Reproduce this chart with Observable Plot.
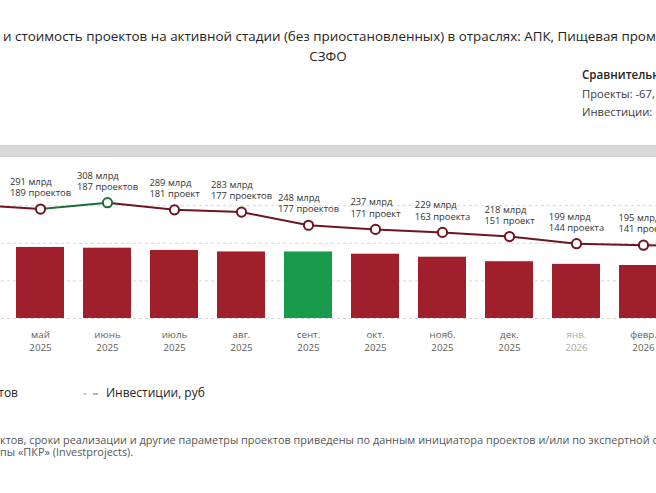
<!DOCTYPE html>
<html><head><meta charset="utf-8">
<script src="https://cdn.jsdelivr.net/npm/d3@7"></script>
<script src="https://cdn.jsdelivr.net/npm/@observablehq/plot@0.6"></script>
<style>
html,body{margin:0;padding:0;width:656px;height:493px;overflow:hidden;background:#fff;font-family:"Open Sans",sans-serif;color:#252423;}
.abs{position:absolute;white-space:nowrap;line-height:16px;}
#t1{left:3px;top:28px;font-size:13.4px;}
#t2{left:0;width:656px;top:48px;font-size:13.4px;text-align:center;}
#c1{left:582px;top:67px;font-size:11.6px;font-weight:600;}
#c2{left:582px;top:86px;font-size:11.2px;color:#3b3a39;}
#c3{left:582px;top:104px;font-size:11.2px;color:#3b3a39;}
#band{position:absolute;left:0;top:145px;width:656px;height:12px;background:#d9d9d9;border-top:1px solid #cfcfcf;border-bottom:1px solid #cfcfcf;box-sizing:border-box;}
#chart{position:absolute;left:-80px;top:160px;width:850px;height:200px;}
#chart svg{max-width:none !important;}
#lg1{right:638px;top:385px;font-size:12px;}
#lg2{left:106px;top:385px;font-size:12px;}
.dash{position:absolute;top:393px;height:2px;background:#9fb4cd;}
#f1{left:0;top:434px;font-size:10.9px;color:#555;line-height:12px;}
#f2{left:0;top:446px;font-size:10.9px;color:#555;line-height:12px;}
</style></head>
<body>
<div class="abs" id="t1">и стоимость проектов на активной стадии (без приостановленных) в отраслях: АПК, Пищевая промышленность</div>
<div class="abs" id="t2">СЗФО</div>
<div class="abs" id="c1">Сравнительн</div>
<div class="abs" id="c2">Проекты: -67,</div>
<div class="abs" id="c3">Инвестиции:</div>
<div id="band"></div>
<div id="chart"></div>
<div class="abs" id="lg1">Количество проектов</div>
<div class="dash" style="left:83px;width:4px;background:#c6d3e2"></div>
<div class="dash" style="left:93px;width:5px;"></div>
<div class="abs" id="lg2">Инвестиции, руб</div>
<div class="abs" id="f1">ктов, сроки реализации и другие параметры проектов приведены по данным инициатора проектов и/или по экспертной оценке</div>
<div class="abs" id="f2">пы «ПКР» (Investprojects).</div>
<script>
const months = ["апр.","май","июнь","июль","авг.","сент.","окт.","нояб.","дек.","янв.","февр.","март"];
const years = ["2025","2025","2025","2025","2025","2025","2025","2025","2025","2026","2026","2026"];
const projects = [191,189,187,181,177,177,171,163,151,144,141,140];
const investments = [302,291,308,289,283,248,237,229,218,199,195,193];
const highlightMonth = "сент. 2025";
const fadedMonth = "янв. 2026";

const RED_BAR = "#a01f2d", GREEN_BAR = "#1a9b4b", RED_LINE = "#6e1522", GREEN_LINE = "#1f6e3a";
const FONT = "'Open Sans', sans-serif";

function plural(n){
  const a = n % 10, b = n % 100;
  if (a === 1 && b !== 11) return "проект";
  if (a >= 2 && a <= 4 && (b < 12 || b > 14)) return "проекта";
  return "проектов";
}

const data = months.map((m, i) => ({
  cat: m + "\n" + years[i],
  key: m + " " + years[i],
  proj: projects[i],
  inv: investments[i],
  up: i > 0 && investments[i] > investments[i - 1]
}));
const segs = [];
for (let i = 0; i < data.length - 1; i++) {
  const up = data[i + 1].inv > data[i].inv;
  segs.push({cat: data[i].cat, inv: data[i].inv, seg: i, up});
  segs.push({cat: data[i + 1].cat, inv: data[i + 1].inv, seg: i, up});
}

const LABEL_SIZE = 9.4;
const svg = Plot.plot({
  width: 850, height: 200,
  marginLeft: 8.9, marginRight: 15.4, marginTop: 7.6, marginBottom: 42,
  x: {domain: data.map(d => d.cat), padding: 0.286, axis: null},
  y: {domain: [0, 400], axis: null},
  style: {fontFamily: FONT, background: "transparent", overflow: "visible", maxWidth: "none"},
  marks: [
    Plot.ruleY([0, 100, 200, 300], {stroke: "#d4d4d4", strokeDasharray: "3,3", strokeWidth: 1}),
    Plot.barY(data, {x: "cat", y: "proj", fill: d => d.key === highlightMonth ? GREEN_BAR : RED_BAR}),
    Plot.line(segs, {x: "cat", y: "inv", z: "seg", stroke: d => d.up ? GREEN_LINE : RED_LINE, strokeWidth: 2}),
    Plot.dot(data, {x: "cat", y: "inv", r: 4.6, fill: "white", stroke: d => d.up ? GREEN_LINE : RED_LINE, strokeWidth: 2}),
    Plot.text(data, {x: "cat", y: "inv", text: d => `${d.proj} ${plural(d.proj)}`, dy: -15.8, fontSize: LABEL_SIZE, fontFamily: FONT, fill: "#333"}),
    Plot.text(data, {x: "cat", y: "inv", text: d => `${d.inv} млрд`, dy: -27, textAnchor: "start", fontSize: LABEL_SIZE, fontFamily: FONT, fill: "#333"}),
    Plot.text(data, {x: "cat", frameAnchor: "bottom", text: "cat", dy: 22, lineAnchor: "middle", lineHeight: 1.25, fontSize: 9.8, fontFamily: FONT, fill: d => d.key === fadedMonth ? "#a9a9a9" : "#605e5c"})
  ]
});
svg.style.maxWidth = "none";
svg.style.width = "850px";
svg.style.height = "200px";

// left-align first label line with the (centered) second line
const cv = document.createElement("canvas").getContext("2d");
cv.font = `${LABEL_SIZE}px 'Open Sans'`;
const textGroups = svg.querySelectorAll('g[aria-label="text"]');
const g1 = textGroups[1];
if (g1) {
  g1.querySelectorAll("text").forEach((t, j) => {
    const d = data[j];
    const w = cv.measureText(`${d.proj} ${plural(d.proj)}`).width;
    const old = t.getAttribute("transform");
    t.setAttribute("transform", `translate(${-w / 2},0)` + (old ? " " + old : ""));
  });
}
document.getElementById("chart").appendChild(svg);
</script>
</body></html>
